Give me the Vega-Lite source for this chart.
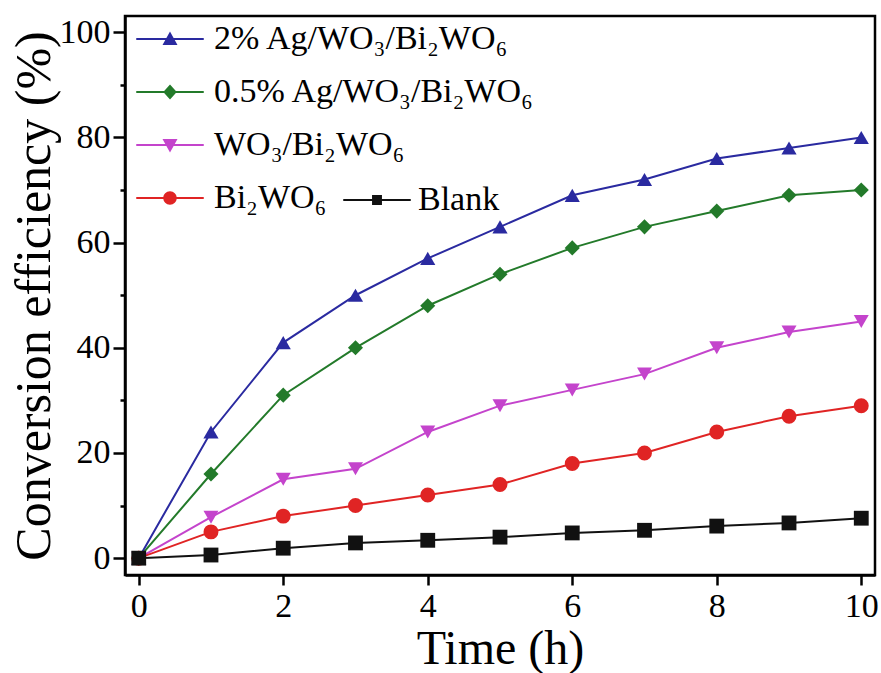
{
  "$schema": "https://vega.github.io/schema/vega-lite/v6.json",
  "width": 750,
  "height": 559,
  "autosize": {"type": "none"},
  "padding": {"left": 125, "top": 16, "right": 6, "bottom": 98},
  "background": "white",
  "config": {
    "font": "Liberation Serif",
    "view": {"stroke": "black", "strokeWidth": 2.5},
    "axis": {
      "labelFont": "Liberation Serif",
      "labelFontSize": 34,
      "labelColor": "black",
      "titleFont": "Liberation Serif",
      "titleFontSize": 48,
      "titleFontWeight": "normal",
      "titleColor": "black",
      "domainColor": "black",
      "domainWidth": 2.5,
      "tickColor": "black",
      "tickWidth": 2.5,
      "grid": false
    },
    "legend": {
      "labelFont": "Liberation Serif",
      "labelFontSize": 34,
      "labelColor": "black",
      "labelLimit": 600
    }
  },
  "data": {
    "values": [
      {"time": 0, "eff": 0, "sample": "2% Ag/WO₃/Bi₂WO₆"},
      {"time": 1, "eff": 24, "sample": "2% Ag/WO₃/Bi₂WO₆"},
      {"time": 2, "eff": 41, "sample": "2% Ag/WO₃/Bi₂WO₆"},
      {"time": 3, "eff": 50, "sample": "2% Ag/WO₃/Bi₂WO₆"},
      {"time": 4, "eff": 57, "sample": "2% Ag/WO₃/Bi₂WO₆"},
      {"time": 5, "eff": 63, "sample": "2% Ag/WO₃/Bi₂WO₆"},
      {"time": 6, "eff": 69, "sample": "2% Ag/WO₃/Bi₂WO₆"},
      {"time": 7, "eff": 72, "sample": "2% Ag/WO₃/Bi₂WO₆"},
      {"time": 8, "eff": 76, "sample": "2% Ag/WO₃/Bi₂WO₆"},
      {"time": 9, "eff": 78, "sample": "2% Ag/WO₃/Bi₂WO₆"},
      {"time": 10, "eff": 80, "sample": "2% Ag/WO₃/Bi₂WO₆"},
      {"time": 0, "eff": 0, "sample": "0.5% Ag/WO₃/Bi₂WO₆"},
      {"time": 1, "eff": 16, "sample": "0.5% Ag/WO₃/Bi₂WO₆"},
      {"time": 2, "eff": 31, "sample": "0.5% Ag/WO₃/Bi₂WO₆"},
      {"time": 3, "eff": 40, "sample": "0.5% Ag/WO₃/Bi₂WO₆"},
      {"time": 4, "eff": 48, "sample": "0.5% Ag/WO₃/Bi₂WO₆"},
      {"time": 5, "eff": 54, "sample": "0.5% Ag/WO₃/Bi₂WO₆"},
      {"time": 6, "eff": 59, "sample": "0.5% Ag/WO₃/Bi₂WO₆"},
      {"time": 7, "eff": 63, "sample": "0.5% Ag/WO₃/Bi₂WO₆"},
      {"time": 8, "eff": 66, "sample": "0.5% Ag/WO₃/Bi₂WO₆"},
      {"time": 9, "eff": 69, "sample": "0.5% Ag/WO₃/Bi₂WO₆"},
      {"time": 10, "eff": 70, "sample": "0.5% Ag/WO₃/Bi₂WO₆"},
      {"time": 0, "eff": 0, "sample": "WO₃/Bi₂WO₆"},
      {"time": 1, "eff": 7.8, "sample": "WO₃/Bi₂WO₆"},
      {"time": 2, "eff": 15, "sample": "WO₃/Bi₂WO₆"},
      {"time": 3, "eff": 17, "sample": "WO₃/Bi₂WO₆"},
      {"time": 4, "eff": 24, "sample": "WO₃/Bi₂WO₆"},
      {"time": 5, "eff": 29, "sample": "WO₃/Bi₂WO₆"},
      {"time": 6, "eff": 32, "sample": "WO₃/Bi₂WO₆"},
      {"time": 7, "eff": 35, "sample": "WO₃/Bi₂WO₆"},
      {"time": 8, "eff": 40, "sample": "WO₃/Bi₂WO₆"},
      {"time": 9, "eff": 43, "sample": "WO₃/Bi₂WO₆"},
      {"time": 10, "eff": 45, "sample": "WO₃/Bi₂WO₆"},
      {"time": 0, "eff": 0, "sample": "Bi₂WO₆"},
      {"time": 1, "eff": 5, "sample": "Bi₂WO₆"},
      {"time": 2, "eff": 8, "sample": "Bi₂WO₆"},
      {"time": 3, "eff": 10, "sample": "Bi₂WO₆"},
      {"time": 4, "eff": 12, "sample": "Bi₂WO₆"},
      {"time": 5, "eff": 14, "sample": "Bi₂WO₆"},
      {"time": 6, "eff": 18, "sample": "Bi₂WO₆"},
      {"time": 7, "eff": 20, "sample": "Bi₂WO₆"},
      {"time": 8, "eff": 24, "sample": "Bi₂WO₆"},
      {"time": 9, "eff": 27, "sample": "Bi₂WO₆"},
      {"time": 10, "eff": 29, "sample": "Bi₂WO₆"},
      {"time": 0, "eff": 0, "sample": "Blank"},
      {"time": 1, "eff": 0.6, "sample": "Blank"},
      {"time": 2, "eff": 1.9, "sample": "Blank"},
      {"time": 3, "eff": 2.9, "sample": "Blank"},
      {"time": 4, "eff": 3.4, "sample": "Blank"},
      {"time": 5, "eff": 4.0, "sample": "Blank"},
      {"time": 6, "eff": 4.8, "sample": "Blank"},
      {"time": 7, "eff": 5.3, "sample": "Blank"},
      {"time": 8, "eff": 6.1, "sample": "Blank"},
      {"time": 9, "eff": 6.7, "sample": "Blank"},
      {"time": 10, "eff": 7.6, "sample": "Blank"}
    ]
  },
  "encoding": {
    "x": {
      "field": "time",
      "type": "quantitative",
      "scale": {"domain": [-0.19, 10.19], "nice": false, "zero": false},
      "axis": {
        "title": "Time (h)",
        "values": [0, 2, 4, 6, 8, 10],
        "labelFont": "Liberation Serif",
        "titleFont": "Liberation Serif",
        "tickSize": 10,
        "labelPadding": 4,
        "titlePadding": 2
      }
    },
    "y": {
      "field": "eff",
      "type": "quantitative",
      "scale": {"domain": [-3.2, 103.1], "nice": false, "zero": false},
      "axis": {
        "title": "Conversion efficiency (%)",
        "titleFontSize": 50,
        "labelFont": "Liberation Serif",
        "titleFont": "Liberation Serif",
        "values": [0, 10, 20, 30, 40, 50, 60, 70, 80, 90, 100],
        "labelExpr": "datum.value % 20 === 0 ? datum.label : ''",
        "tickSize": {"condition": {"test": "datum.value % 20 === 0", "value": 12}, "value": 5},
        "labelPadding": 3,
        "titlePadding": 0
      }
    }
  },
  "resolve": {
    "scale": {"color": "independent", "shape": "independent", "size": "independent"},
    "legend": {"color": "independent", "shape": "independent"}
  },
  "layer": [
    {
      "mark": {"type": "line", "strokeWidth": 2},
      "encoding": {
        "color": {
          "field": "sample",
          "type": "nominal",
          "scale": {
            "domain": ["2% Ag/WO₃/Bi₂WO₆", "0.5% Ag/WO₃/Bi₂WO₆", "WO₃/Bi₂WO₆", "Bi₂WO₆", "Blank"],
            "range": ["#2a2aa0", "#237a2a", "#c444cc", "#e02424", "#111111"]
          },
          "legend": null
        }
      }
    },
    {
      "mark": {"type": "point", "filled": true, "opacity": 1},
      "encoding": {
        "color": {
          "field": "sample",
          "type": "nominal",
          "scale": {
            "domain": ["2% Ag/WO₃/Bi₂WO₆", "0.5% Ag/WO₃/Bi₂WO₆", "WO₃/Bi₂WO₆", "Bi₂WO₆", "Blank"],
            "range": ["#2a2aa0", "#237a2a", "#c444cc", "#e02424", "#111111"]
          },
          "legend": null
        },
        "shape": {
          "field": "sample",
          "type": "nominal",
          "scale": {
            "domain": ["2% Ag/WO₃/Bi₂WO₆", "0.5% Ag/WO₃/Bi₂WO₆", "WO₃/Bi₂WO₆", "Bi₂WO₆", "Blank"],
            "range": ["triangle-up", "diamond", "triangle-down", "circle", "square"]
          },
          "legend": null
        },
        "size": {
          "field": "sample",
          "type": "nominal",
          "scale": {
            "domain": ["2% Ag/WO₃/Bi₂WO₆", "0.5% Ag/WO₃/Bi₂WO₆", "WO₃/Bi₂WO₆", "Bi₂WO₆", "Blank"],
            "range": [230, 220, 230, 220, 140]
          },
          "legend": null
        }
      }
    },
    {
      "transform": [{"filter": "datum.sample !== 'Blank'"}],
      "mark": {"type": "point", "filled": true, "opacity": 0},
      "encoding": {
        "color": {
          "field": "sample",
          "type": "nominal",
          "scale": {
            "domain": ["2% Ag/WO₃/Bi₂WO₆", "0.5% Ag/WO₃/Bi₂WO₆", "WO₃/Bi₂WO₆", "Bi₂WO₆"],
            "range": ["#2a2aa0", "#237a2a", "#c444cc", "#e02424"]
          },
          "legend": {
            "title": null,
            "orient": "none",
            "legendX": 28,
            "legendY": 6,
            "padding": 0,
            "symbolSize": 900,
            "symbolOpacity": 1,
            "symbolStrokeWidth": 0,
            "labelOffset": 27,
            "rowPadding": 19
          }
        },
        "shape": {
          "field": "sample",
          "type": "nominal",
          "scale": {
            "domain": ["2% Ag/WO₃/Bi₂WO₆", "0.5% Ag/WO₃/Bi₂WO₆", "WO₃/Bi₂WO₆", "Bi₂WO₆"],
            "range": [
              "M-2.25,-0.07H2.25V0.07H-2.25Z M0,-0.5L0.5,0.4L-0.5,0.4Z",
              "M-2.25,-0.07H2.25V0.07H-2.25Z M0,-0.5L0.45,0L0,0.5L-0.45,0Z",
              "M-2.25,-0.07H2.25V0.07H-2.25Z M0,0.5L-0.5,-0.4L0.5,-0.4Z",
              "M-2.25,-0.07H2.25V0.07H-2.25Z M-0.45,0A0.45,0.45 0 1 1 0.45,0A0.45,0.45 0 1 1 -0.45,0Z"
            ]
          },
          "legend": {
            "title": null,
            "orient": "none",
            "legendX": 28,
            "legendY": 6,
            "padding": 0,
            "symbolSize": 900,
            "symbolOpacity": 1,
            "symbolStrokeWidth": 0,
            "labelOffset": 27,
            "rowPadding": 19
          }
        }
      }
    },
    {
      "transform": [{"filter": "datum.sample === 'Blank'"}],
      "mark": {"type": "point", "filled": true, "opacity": 0},
      "encoding": {
        "color": {
          "field": "sample",
          "type": "nominal",
          "scale": {"domain": ["Blank"], "range": ["#111111"]},
          "legend": {
            "title": null,
            "orient": "none",
            "legendX": 235,
            "legendY": 167,
            "padding": 0,
            "symbolSize": 900,
            "symbolOpacity": 1,
            "symbolStrokeWidth": 0,
            "labelOffset": 24
          }
        },
        "shape": {
          "field": "sample",
          "type": "nominal",
          "scale": {
            "domain": ["Blank"],
            "range": ["M-2.25,-0.07H2.25V0.07H-2.25Z M-0.33,-0.33H0.33V0.33H-0.33Z"]
          },
          "legend": {
            "title": null,
            "orient": "none",
            "legendX": 235,
            "legendY": 167,
            "padding": 0,
            "symbolSize": 900,
            "symbolOpacity": 1,
            "symbolStrokeWidth": 0,
            "labelOffset": 24
          }
        }
      }
    }
  ]
}
